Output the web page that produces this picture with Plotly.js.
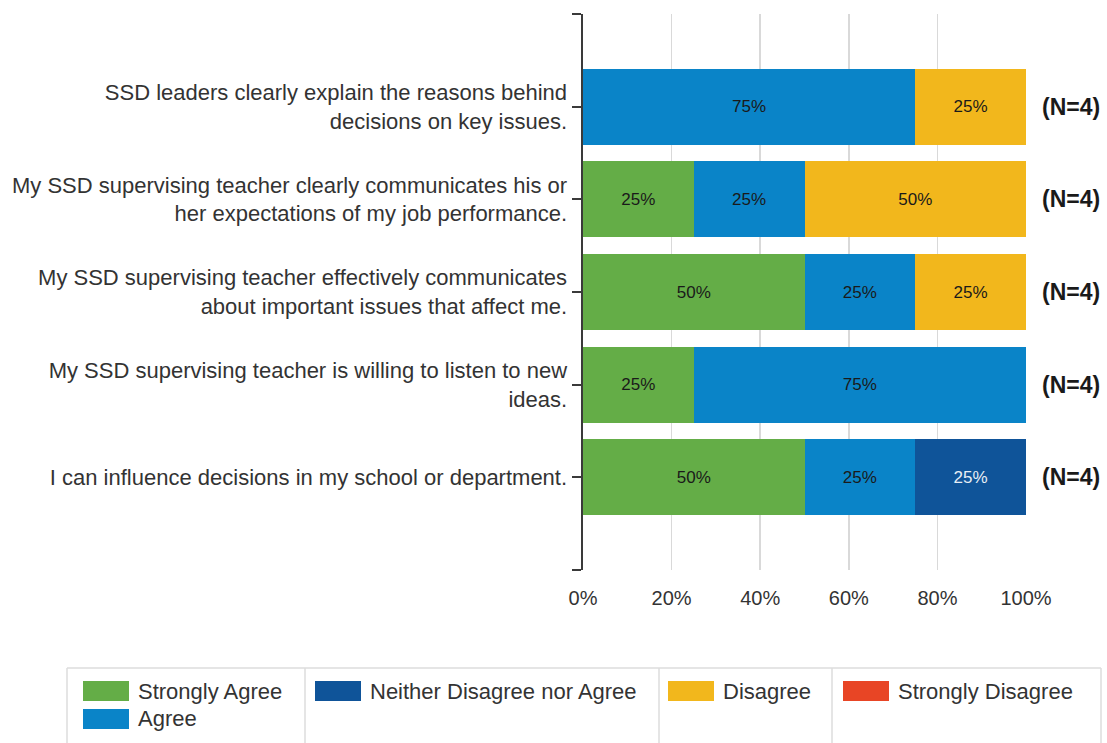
<!DOCTYPE html>
<html>
<head>
<meta charset="utf-8">
<script src="https://cdn.plot.ly/plotly-3.0.1.min.js"></script>
<style>
html,body{margin:0;padding:0;background:#fff;}
#chart{width:1107px;height:743px;}
</style>
</head>
<body>
<div id="chart"></div>
<script>
// ---- data ----
const categories = [
  "SSD leaders clearly explain the reasons behind<br>decisions on key issues.",
  "My SSD supervising teacher clearly communicates his or<br>her expectations of my job performance.",
  "My SSD supervising teacher effectively communicates<br>about important issues that affect me.",
  "My SSD supervising teacher is willing to listen to new<br>ideas.",
  "I can influence decisions in my school or department."
];
const seriesNames = ["Strongly Agree", "Agree", "Neither Disagree nor Agree", "Disagree", "Strongly Disagree"];
const stronglyAgree    = [0, 25, 50, 25, 50];
const agree            = [75, 25, 25, 75, 25];
const neither          = [0, 0, 0, 0, 25];
const disagree         = [25, 50, 25, 0, 0];
const stronglyDisagree = [0, 0, 0, 0, 0];
const nCounts = [4, 4, 4, 4, 4];
const xTickVals = [0, 20, 40, 60, 80, 100];
const xTickLabels = ["0%", "20%", "40%", "60%", "80%", "100%"];

// ---- styles ----
const seriesColors = ["#64ad47", "#0a84c8", "#0f5499", "#f2b71c", "#e84525"];
const seriesTextColors = ["#1a1a1a", "#1a1a1a", "#e8eef5", "#1a1a1a", "#1a1a1a"];
const FONT = '"Liberation Sans", Arial, sans-serif';

const W = 1107, H = 743;
const M = {l: 583, r: 81, t: 14, b: 173};
const PW = W - M.l - M.r, PH = H - M.t - M.b;
const px2x = p => (p - M.l) / PW;
const px2y = p => (H - M.b - p) / PH;

const seriesValues = [stronglyAgree, agree, neither, disagree, stronglyDisagree];
const yIdx = categories.map((c, i) => i);

const traces = seriesNames.map((name, s) => ({
  type: 'bar',
  orientation: 'h',
  name: name,
  x: seriesValues[s],
  y: yIdx,
  width: 0.82,
  marker: {color: seriesColors[s], line: {width: 0}},
  text: seriesValues[s].map(v => v > 0 ? v + '%' : ''),
  textposition: 'inside',
  insidetextanchor: 'middle',
  textangle: 0,
  textfont: {family: FONT, size: 17, color: seriesTextColors[s]},
  hoverinfo: 'skip',
  showlegend: false
}));

// N annotations
const annotations = categories.map((c, i) => ({
  xref: 'paper', yref: 'y', x: 1, y: i,
  xanchor: 'left', yanchor: 'middle', xshift: 14,
  text: '<b>(N=' + nCounts[i] + ')</b>',
  showarrow: false,
  font: {family: FONT, size: 23, color: '#1a1a1a'}
}));

// manual legend (built from series arrays)
const legendSlots = [[83, 691], [83, 719], [315, 691], [668, 691], [843, 691]];
const shapes = [];
seriesNames.forEach((name, s) => {
  const [lx, cy] = legendSlots[s];
  shapes.push({type: 'rect', xref: 'paper', yref: 'paper',
    x0: px2x(lx), x1: px2x(lx + 46), y0: px2y(cy - 10), y1: px2y(cy + 10),
    fillcolor: seriesColors[s], line: {width: 0}});
  annotations.push({xref: 'paper', yref: 'paper', x: px2x(lx + 53), y: px2y(cy),
    xanchor: 'left', yanchor: 'middle', text: name, showarrow: false,
    font: {family: FONT, size: 22, color: '#333333'}});
});
// legend frame
const frameColor = '#dcdcdc';
const boxL = 67, boxR = 1101, boxT = 668, boxB = 760;
shapes.push({type: 'line', xref: 'paper', yref: 'paper', x0: px2x(boxL), x1: px2x(boxR), y0: px2y(boxT), y1: px2y(boxT), line: {color: frameColor, width: 1.5}});
[boxL, 305, 659, 832, boxR].forEach(x => {
  shapes.push({type: 'line', xref: 'paper', yref: 'paper', x0: px2x(x), x1: px2x(x), y0: px2y(boxT), y1: px2y(boxB), line: {color: frameColor, width: 1.5}});
});

const layout = {
  width: W, height: H,
  margin: M,
  paper_bgcolor: '#ffffff', plot_bgcolor: '#ffffff',
  barmode: 'stack',
  bargap: 0.18,
  showlegend: false,
  font: {family: FONT, color: '#333333'},
  xaxis: {
    range: [0, 100], tickmode: 'array', tickvals: xTickVals, ticktext: xTickLabels,
    showgrid: true, gridcolor: '#d9d9d9', gridwidth: 1.5,
    zeroline: false, showline: false, ticks: '',
    ticklabelstandoff: 14,
    tickfont: {family: FONT, size: 20, color: '#333333'},
    fixedrange: true
  },
  yaxis: {
    range: [categories.length, -1],
    tickvals: [-1].concat(yIdx, [categories.length]),
    ticktext: [''].concat(categories, ['']),
    showgrid: false, zeroline: false,
    showline: true, linecolor: '#3a3a3a', linewidth: 2.5,
    ticks: 'outside', ticklen: 9, tickwidth: 2, tickcolor: '#3a3a3a',
    tickfont: {family: FONT, size: 22, color: '#333333'},
    fixedrange: true
  },
  shapes: shapes,
  annotations: annotations
};

Plotly.newPlot('chart', traces, layout, {displayModeBar: false, staticPlot: true});
</script>
</body>
</html>
